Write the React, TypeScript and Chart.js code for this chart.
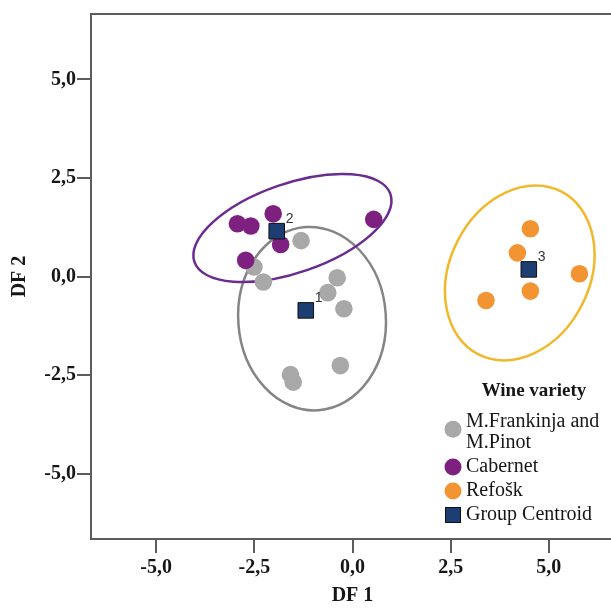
import React, { useEffect, useRef } from 'react';
import { Chart, registerables } from 'chart.js';

Chart.register(...registerables);

// ---- data ----
const X_TICKS = [-5, -2.5, 0, 2.5, 5];
const Y_TICKS = [-5, -2.5, 0, 2.5, 5];
const AXIS_MIN = -6.66;
const AXIS_MAX = 6.66;
const X_TITLE = 'DF 1';
const Y_TITLE = 'DF 2';

const FRANK_X = [-1.31, -2.51, -2.27, -0.39, -0.63, -0.22, -1.58, -1.51, -0.31];
const FRANK_Y = [0.91, 0.24, -0.14, -0.03, -0.41, -0.82, -2.49, -2.68, -2.26];
const CAB_X = [-2.93, -2.59, -2.02, -1.83, -2.72, 0.54];
const CAB_Y = [1.34, 1.28, 1.59, 0.81, 0.41, 1.45];
const REF_X = [4.53, 4.2, 5.78, 4.53, 3.4];
const REF_Y = [1.21, 0.6, 0.07, -0.37, -0.61];
const CENTROID_X = [-1.19, -1.93, 4.49];
const CENTROID_Y = [-0.86, 1.15, 0.18];
const CENTROID_LABELS = ['1', '2', '3'];

// territorial ellipses: centre, semi-axes (data units), rotation in degrees
const ELLIPSE_CX = [-1.03, -1.53, 4.26];
const ELLIPSE_CY = [-1.07, 1.23, 0.09];
const ELLIPSE_A = [2.33, 2.64, 2.32];
const ELLIPSE_B = [1.88, 1.13, 1.78];
const ELLIPSE_ANGLE = [94, 19, 63];

const SERIES_NAMES = ['M.Frankinja and M.Pinot', 'Cabernet', 'Refošk', 'Group Centroid'];
const LEGEND_TITLE = 'Wine variety';

// ---- styles ----
const GREY = '#a8a8a8';
const PURPLE = '#7d2080';
const ORANGE = '#f39433';
const NAVY = '#1d3e72';
const ELLIPSE_COLORS = ['#858585', '#6a2c8f', '#f1b82c'];
const AXIS_COLOR = '#5c5c5c';
const TEXT_COLOR = '#161616';
const SERIF = '"Liberation Serif", "Times New Roman", serif';

const toPoints = (xs: number[], ys: number[]) => xs.map((x, i) => ({ x, y: ys[i] }));

const ellipsePlugin = {
  id: 'ellipses',
  beforeDatasetsDraw(chart: any) {
    const { ctx, scales } = chart;
    const xs = scales.x;
    const ys = scales.y;
    const sx = xs.getPixelForValue(1) - xs.getPixelForValue(0);
    const sy = ys.getPixelForValue(0) - ys.getPixelForValue(1);
    ELLIPSE_CX.forEach((cx, i) => {
      ctx.save();
      ctx.beginPath();
      ctx.translate(xs.getPixelForValue(cx), ys.getPixelForValue(ELLIPSE_CY[i]));
      ctx.scale(sx, -sy);
      ctx.rotate((ELLIPSE_ANGLE[i] * Math.PI) / 180);
      ctx.ellipse(0, 0, ELLIPSE_A[i], ELLIPSE_B[i], 0, 0, Math.PI * 2);
      ctx.restore();
      ctx.save();
      ctx.strokeStyle = ELLIPSE_COLORS[i];
      ctx.lineWidth = 2.5;
      ctx.stroke();
      ctx.restore();
    });
  },
};

const framePlugin = {
  id: 'frame',
  afterDraw(chart: any) {
    const { ctx, chartArea: a } = chart;
    ctx.save();
    ctx.strokeStyle = AXIS_COLOR;
    ctx.lineWidth = 2;
    ctx.strokeRect(a.left, a.top, a.right - a.left, a.bottom - a.top);
    ctx.restore();
  },
};

const centroidLabelPlugin = {
  id: 'centroidLabels',
  afterDatasetsDraw(chart: any) {
    const { ctx, scales } = chart;
    ctx.save();
    ctx.font = '14px "Liberation Sans", Arial, sans-serif';
    ctx.fillStyle = '#333333';
    ctx.textAlign = 'left';
    ctx.textBaseline = 'middle';
    CENTROID_X.forEach((cx, i) => {
      const px = scales.x.getPixelForValue(cx);
      const py = scales.y.getPixelForValue(CENTROID_Y[i]);
      ctx.fillText(CENTROID_LABELS[i], px + 9, py - 12);
    });
    ctx.restore();
  },
};

const legendPlugin = {
  id: 'wineLegend',
  afterDraw(chart: any) {
    const { ctx } = chart;
    const markerX = 453;
    const textX = 466;
    const maxW = 140;
    ctx.save();
    ctx.fillStyle = TEXT_COLOR;
    ctx.font = `bold 19px ${SERIF}`;
    ctx.textAlign = 'center';
    ctx.textBaseline = 'middle';
    ctx.fillText(LEGEND_TITLE, 534, 391);

    ctx.font = `20px ${SERIF}`;
    ctx.textAlign = 'left';
    const colors = [GREY, PURPLE, ORANGE, NAVY];
    let y = 421.5;
    SERIES_NAMES.forEach((name, i) => {
      const words = name.split(' ');
      const lines: string[] = [];
      let cur = '';
      words.forEach((w) => {
        const t = cur ? cur + ' ' + w : w;
        if (cur && ctx.measureText(t).width > maxW) {
          lines.push(cur);
          cur = w;
        } else cur = t;
      });
      if (cur) lines.push(cur);
      const my = y + ((lines.length - 1) * 21.5) / 2 - (lines.length > 1 ? 3 : 0);
      ctx.fillStyle = colors[i];
      if (i === 3) {
        ctx.fillRect(markerX - 7.5, my - 7.5, 15, 15);
        ctx.strokeStyle = '#111111';
        ctx.lineWidth = 1;
        ctx.strokeRect(markerX - 7.5, my - 7.5, 15, 15);
      } else {
        ctx.beginPath();
        ctx.arc(markerX, my, 8.5, 0, Math.PI * 2);
        ctx.fill();
      }
      ctx.fillStyle = TEXT_COLOR;
      lines.forEach((ln, k) => ctx.fillText(ln, textX, y + k * 21.5));
      y += (lines.length - 1) * 21.5 + 24;
    });
    ctx.restore();
  },
};

const fmt = (v: number) => v.toFixed(1).replace('.', ',');

export default function App() {
  const ref = useRef<HTMLCanvasElement | null>(null);

  useEffect(() => {
    if (!ref.current) return;
    const chart = new Chart(ref.current, {
      type: 'scatter',
      data: {
        datasets: [
          {
            label: SERIES_NAMES[3],
            data: toPoints(CENTROID_X, CENTROID_Y),
            pointStyle: 'rect',
            pointRadius: 11,
            backgroundColor: NAVY,
            borderColor: '#111111',
            borderWidth: 1,
            order: 0,
          },
          {
            label: SERIES_NAMES[2],
            data: toPoints(REF_X, REF_Y),
            pointRadius: 8.8,
            backgroundColor: ORANGE,
            borderWidth: 0,
            order: 1,
          },
          {
            label: SERIES_NAMES[1],
            data: toPoints(CAB_X, CAB_Y),
            pointRadius: 8.8,
            backgroundColor: PURPLE,
            borderWidth: 0,
            order: 2,
          },
          {
            label: SERIES_NAMES[0],
            data: toPoints(FRANK_X, FRANK_Y),
            pointRadius: 8.8,
            backgroundColor: GREY,
            borderWidth: 0,
            order: 3,
          },
        ],
      },
      options: {
        animation: false,
        responsive: false,
        devicePixelRatio: 1,
        layout: { padding: { top: 14, right: 10, left: 0, bottom: 0 } },
        plugins: { legend: { display: false }, tooltip: { enabled: false } },
        scales: {
          x: {
            type: 'linear',
            min: AXIS_MIN,
            max: AXIS_MAX,
            afterBuildTicks: (s: any) => {
              s.ticks = X_TICKS.map((v) => ({ value: v }));
            },
            afterFit: (s: any) => {
              s.height = 69;
            },
            grid: {
              drawOnChartArea: false,
              drawTicks: true,
              tickLength: 14,
              color: AXIS_COLOR,
              lineWidth: 2,
            },
            border: { display: false },
            ticks: {
              callback: (v: any) => fmt(Number(v)),
              color: TEXT_COLOR,
              font: { family: SERIF, size: 20, weight: 'bold' },
              padding: 3,
              maxRotation: 0,
            },
            title: {
              display: true,
              text: X_TITLE,
              color: TEXT_COLOR,
              font: { family: SERIF, size: 20, weight: 'bold' },
              padding: { top: 0, bottom: 0 },
            },
          },
          y: {
            type: 'linear',
            min: AXIS_MIN,
            max: AXIS_MAX,
            afterBuildTicks: (s: any) => {
              s.ticks = Y_TICKS.map((v) => ({ value: v }));
            },
            afterFit: (s: any) => {
              s.width = 91;
            },
            grid: {
              drawOnChartArea: false,
              drawTicks: true,
              tickLength: 14,
              color: AXIS_COLOR,
              lineWidth: 2,
            },
            border: { display: false },
            ticks: {
              callback: (v: any) => fmt(Number(v)),
              color: TEXT_COLOR,
              font: { family: SERIF, size: 20, weight: 'bold' },
              padding: 1,
            },
            title: {
              display: true,
              text: Y_TITLE,
              color: TEXT_COLOR,
              font: { family: SERIF, size: 20, weight: 'bold' },
              padding: { top: 8, bottom: 0 },
            },
          },
        },
      },
      plugins: [ellipsePlugin, centroidLabelPlugin, framePlugin, legendPlugin],
    } as any);
    return () => chart.destroy();
  }, []);

  return (
    <div
      style={{
        position: 'fixed',
        left: 0,
        top: 0,
        width: 611,
        height: 608,
        overflow: 'hidden',
        background: '#ffffff',
      }}
    >
      <canvas ref={ref} width={626} height={608} style={{ width: 626, height: 608, display: 'block' }} />
    </div>
  );
}
